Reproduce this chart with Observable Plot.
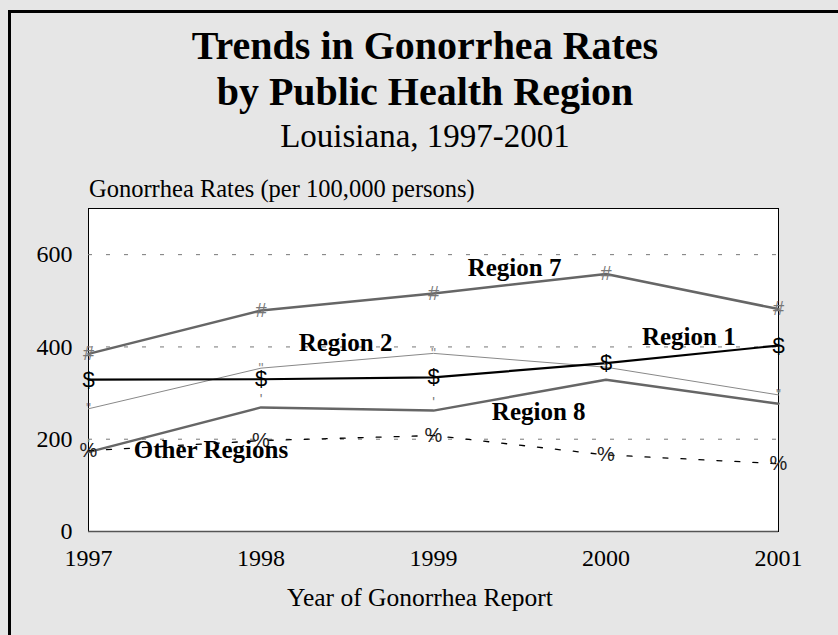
<!DOCTYPE html>
<html><head><meta charset="utf-8">
<script src="https://cdn.jsdelivr.net/npm/d3@7"></script>
<script src="https://cdn.jsdelivr.net/npm/@observablehq/plot@0.6"></script>
<style>
body{margin:0;background:#fff;}
#page{position:relative;width:838px;height:635px;background:#e6e6e6;overflow:hidden;font-family:"Liberation Serif","Times New Roman",serif;color:#000;}
#border{position:absolute;left:8px;top:10px;right:-10px;bottom:-10px;border-top:3px solid #000;border-left:3px solid #000;}
.t{position:absolute;left:0;text-align:center;line-height:1;white-space:nowrap;}
#chart{position:absolute;left:0;top:160px;}
</style></head><body>
<div id="page">
<div id="border"></div>
<div class="t" style="top:26px;width:850px;font-size:40px;font-weight:bold;">Trends in Gonorrhea Rates</div>
<div class="t" style="top:72px;width:850px;font-size:40px;font-weight:bold;">by Public Health Region</div>
<div class="t" style="top:120px;width:850px;font-size:33px;">Louisiana, 1997-2001</div>
<div class="t" style="top:177px;left:89px;text-align:left;font-size:24.5px;">Gonorrhea Rates (per 100,000 persons)</div>
<div class="t" style="top:585px;width:840px;font-size:25.5px;">Year of Gonorrhea Report</div>
<div id="chart"></div>
</div>
<script>
const years = [1997, 1998, 1999, 2000, 2001];
const region1 = [329, 330, 334, 365, 403];
const region2 = [266, 354, 386, 356, 296];
const region7 = [385, 479, 516, 558, 482];
const region8 = [172, 269, 262, 329, 277];
const otherRegions = [175, 197, 208, 166, 147];
const yTicks = [0, 200, 400, 600];
const gridValues = [200, 400, 600];

const labelNames = ["Region 7", "Region 2", "Region 1", "Region 8", "Other Regions"];
const labelYears = [1999.47, 1998.49, 2000.48, 1999.61, 1997.71];
const labelRates = [570, 409, 422, 260, 177];

const rows = (vals) => years.map((x, i) => ({x, y: vals[i]}));
const labels = labelNames.map((name, i) => ({name, x: labelYears[i], y: labelRates[i]}));

const plot = Plot.plot({
  width: 838, height: 475,
  marginLeft: 88, marginRight: 60, marginTop: 48, marginBottom: 104,
  style: {background: "transparent", fontFamily: "Liberation Serif, serif", fontSize: "24px", color: "#000", overflow: "visible"},
  x: {domain: [1997, 2001], ticks: years, tickFormat: d => String(d), tickSize: 0, tickPadding: 17, label: null},
  y: {domain: [0, 700], ticks: yTicks, tickSize: 0, tickPadding: 16, label: null},
  marks: [
    Plot.frame({fill: "white", stroke: "black", strokeWidth: 1}),
    Plot.ruleY(gridValues, {stroke: "#777", strokeDasharray: "4,14"}),
    Plot.ruleY([0], {stroke: "#555", strokeWidth: 1.5}),
    Plot.line(rows(region2), {x: "x", y: "y", stroke: "#888", strokeWidth: 1}),
    Plot.line(rows(region7), {x: "x", y: "y", stroke: "#666", strokeWidth: 2.5}),
    Plot.line(rows(region8), {x: "x", y: "y", stroke: "#666", strokeWidth: 2.5}),
    Plot.line(rows(otherRegions), {x: "x", y: "y", stroke: "#000", strokeWidth: 1.3, strokeDasharray: "5,13"}),
    Plot.line(rows(region1), {x: "x", y: "y", stroke: "#000", strokeWidth: 2.2}),
    Plot.text(rows(region7), {x: "x", y: "y", text: () => "#", fill: "#777", fontSize: 20, fontFamily: "Liberation Sans, sans-serif"}),
    Plot.text(rows(region2), {x: "x", y: "y", text: () => "\"", fill: "#888", fontSize: 14, fontFamily: "Liberation Sans, sans-serif"}),
    Plot.text(rows(region8), {x: "x", y: "y", text: () => "'", fill: "#777", fontSize: 14, dy: -8, fontFamily: "Liberation Sans, sans-serif"}),
    Plot.text(rows(otherRegions), {x: "x", y: "y", text: () => "%", fill: "#222", fontSize: 20, fontFamily: "Liberation Sans, sans-serif"}),
    Plot.text(rows(region1), {x: "x", y: "y", text: () => "$", fill: "#000", fontSize: 22, fontFamily: "Liberation Sans, sans-serif"}),
    Plot.text(labels, {x: "x", y: "y", text: "name", fontWeight: "bold", fontSize: 25, fill: "#000"})
  ]
});
document.getElementById("chart").appendChild(plot);
</script>
</body></html>
